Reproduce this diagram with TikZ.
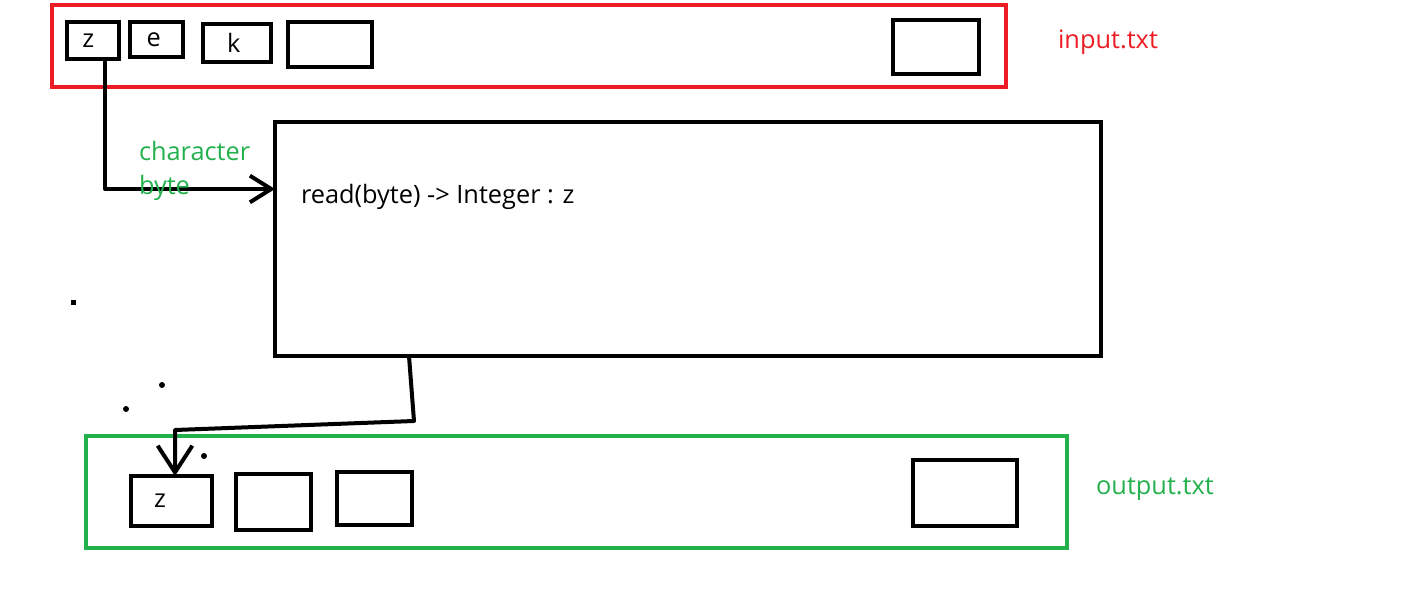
\documentclass[tikz,border=0pt]{standalone}
\usepackage{fontspec}
\setmainfont{Open Sans}
\usetikzlibrary{arrows.meta}
\definecolor{paintred}{HTML}{ED1C24}
\definecolor{paintgreen}{HTML}{22B14C}
\tikzset{
  cell/.style={draw, rectangle, inner sep=0pt, outer sep=0pt, font=\fontsize{19}{23}\selectfont},
  frame/.style={draw, rectangle, inner sep=0pt, outer sep=0pt},
  flow/.style={draw, line join=round, line cap=round},
}
\begin{document}
\begin{tikzpicture}[x=0.75pt, y=-0.75pt, line width=3pt]
    \useasboundingbox (0,0) rectangle (1415,589);

    % Input file
    \node[frame, paintred, minimum width=715.5pt, minimum height=61.5pt] (infile) at (529,46) {};
    \node[cell, minimum width=39pt, minimum height=27.75pt] (zin) at (93,40.5) {\raisebox{-5pt}[0pt][0pt]{z}\kern7pt};
    \node[cell, minimum width=39.75pt, minimum height=26.25pt] (ein) at (156.5,39.5) {e\kern4pt};
    \node[cell, minimum width=51pt, minimum height=28.5pt] (kin) at (237,43) {k\kern5pt};
    \node[cell, minimum width=63pt, minimum height=33.75pt] (blankin) at (330,44.5) {};
    \node[cell, minimum width=64.5pt, minimum height=40.5pt] (lastin) at (936,47) {};
    \node[paintred, font=\fontsize{19}{23}\selectfont] (inlabel) at (1108,42) {input.txt};

    % Reader
    \node[frame, minimum width=619.5pt, minimum height=175.5pt] (reader) at (688,239) {};
    \node[anchor=west, inner sep=0pt, font=\fontsize{19}{23}\selectfont] (readtext) at (299,197) {read(byte) -> Integer : z};

    % Output file
    \node[frame, paintgreen, minimum width=735.75pt, minimum height=84pt] (outfile) at (576.5,492) {};
    \node[cell, minimum width=60.75pt, minimum height=37.5pt] (zout) at (171.5,501) {z\kern17pt};
    \node[cell, minimum width=56.25pt, minimum height=42pt] (blankouta) at (273.5,502) {};
    \node[cell, minimum width=56.25pt, minimum height=39.75pt] (blankoutb) at (374.5,498.5) {};
    \node[cell, minimum width=78pt, minimum height=49.5pt] (lastout) at (965,493) {};
    \node[paintgreen, font=\fontsize{19}{23}\selectfont] (outlabel) at (1155,489) {output.txt};

    % Byte into the reader
    \coordinate (bendin) at (105,189);
    \draw[flow, -{Straight Barb[length=16pt, width=20pt]}] (zin.south -| bendin) -- (bendin) -- (bendin -| reader.west);
    \node[paintgreen, anchor=north west, align=left, inner sep=0pt, font=\fontsize{19}{26}\selectfont] (bytelabel) at (137,139) {character\\byte};

    % Integer out to the output file
    \coordinate (outstart) at (409,356);
    \coordinate (outbend) at (414,421);
    \coordinate (outturn) at (175,430);
    \draw[flow, -{Straight Barb[length=20pt, width=26pt]}] (outstart) -- (outbend) -- (outturn) -- (outturn |- zout.north);

    % Stray dots
    \fill (70.5,299.5) rectangle (75.5,304.5);
    \fill (162,385) circle (2.25pt);
    \fill (126,409) circle (2.25pt);
    \fill (204,456) circle (2.25pt);
\end{tikzpicture}
\end{document}
